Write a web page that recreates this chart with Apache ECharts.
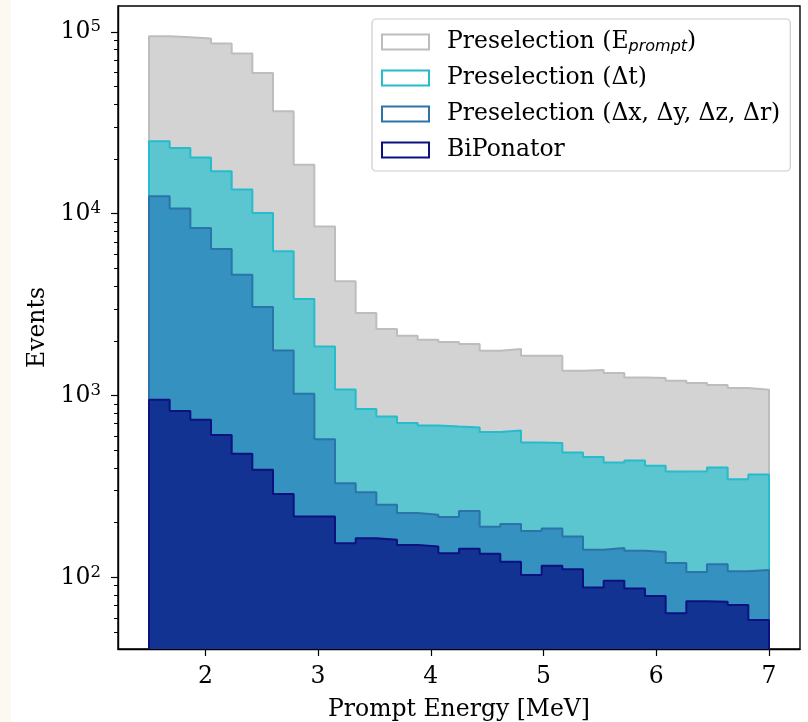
<!DOCTYPE html>
<html><head><meta charset="utf-8">
<script src="https://cdn.jsdelivr.net/npm/echarts@6/dist/echarts.min.js"></script>
<style>html,body{margin:0;padding:0;background:#fff}#c{width:808px;height:722px}</style>
</head><body><div id="c"></div>
<script>
// Histogram binning: 30 bins from 1.5 to 7.0 MeV
const binStart = 1.5;
const binEnd = 7.0;
const nBins = 30;

const seriesNames = [
  'Preselection (E_prompt)',
  'Preselection (Δt)',
  'Preselection (Δx, Δy, Δz, Δr)',
  'BiPonator'
];

const ePrompt = [94700, 93500, 92000, 86300, 76000, 59500, 36600, 18600, 8520, 4250,
                 2845, 2323, 2134, 2028, 1970, 1920, 1765, 1803, 1656, 1656,
                 1369, 1381, 1330, 1258, 1248, 1206, 1172, 1142, 1100, 1076];
const deltaT = [25000, 23000, 20400, 17100, 13600, 10100, 6210, 3400, 1863, 1080,
                843, 767, 706, 685, 676, 668, 630, 643, 552, 548,
                486, 459, 428, 439, 411, 382, 384, 402, 347, 368];
const deltaXYZR = [12470, 10700, 8350, 6400, 4620, 3070, 1771, 1023, 576, 330,
                   294, 251, 226, 221, 215, 232, 190, 197, 180, 186,
                   168, 142, 145, 140, 138, 120, 107, 118, 108, 110];
const biPonator = [948, 823, 736, 608, 478, 391, 288, 216, 216, 154,
                   164, 161, 151, 148, 136, 144, 135, 122, 103, 116,
                   111, 88, 96, 87, 79, 63.5, 74, 73.6, 70.6, 58.4];

const xTicks = [2, 3, 4, 5, 6, 7];
const yTicks = [100, 1000, 10000, 100000];
const yMinorTicks = [50, 60, 70, 80, 90, 200, 300, 400, 500, 600, 700, 800, 900,
  2000, 3000, 4000, 5000, 6000, 7000, 8000, 9000,
  20000, 30000, 40000, 50000, 60000, 70000, 80000, 90000];

const xMin = 1.225, xMax = 7.275;
const yMin = 40.4, yMax = 138800;

const fillColors = ['#d3d3d3', '#5bc5d0', '#3591c0', '#133393'];
const edgeColors = ['#bdbdbd', '#26bccc', '#2b74a9', '#0b1280'];
const FONT = 'DejaVu Serif';
const FS = 23.5;

const binWidth = (binEnd - binStart) / nBins;
const edges = [];
for (let k = 0; k <= nBins; k++) edges.push(binStart + k * binWidth);

function stepPoints(vals) {
  const pts = [[edges[0], yMin]];
  vals.forEach((v, i) => pts.push([edges[i], v]));
  pts.push([edges[nBins], vals[vals.length - 1]]);
  pts.push([edges[nBins], yMin]);
  return pts;
}

const allData = [ePrompt, deltaT, deltaXYZR, biPonator];
const series = allData.map((vals, i) => ({
  name: seriesNames[i],
  type: 'line',
  step: 'end',
  symbol: 'none',
  data: stepPoints(vals),
  lineStyle: { color: edgeColors[i], width: 2 },
  itemStyle: { color: edgeColors[i] },
  areaStyle: { color: fillColors[i], opacity: 1, origin: 'start' },
  emphasis: { disabled: true },
  silent: true,
  animation: false
}));

const chart = echarts.init(document.getElementById('c'));
chart.setOption({
  animation: false,
  backgroundColor: '#ffffff',
  graphic: [{ type: 'rect', left: 0, top: 0, shape: { width: 11, height: 722 }, style: { fill: '#fdf9f0' }, silent: true }],
  grid: { left: 118, right: 8, top: 6, bottom: 73, show: true, borderColor: '#000', borderWidth: 1.4, backgroundColor: '#fff', outerBoundsMode: 'none', containLabel: false },
  legend: {
    orient: 'vertical', left: 372, top: 19,
    padding: [10, 10, 8, 9], itemGap: 10, itemWidth: 47, itemHeight: 15,
    icon: 'rect',
    backgroundColor: 'rgba(255,255,255,0.8)', borderColor: '#cccccc', borderWidth: 1.2, borderRadius: 4,
    selectedMode: false,
    textStyle: {
      fontFamily: FONT, fontSize: FS, color: '#000', lineHeight: 26, padding: [0, 0, 0, 13],
      rich: {
        sub: { fontFamily: 'DejaVu Sans', fontStyle: 'italic', fontSize: 16, color: '#000', lineHeight: 26, verticalAlign: 'bottom' }
      }
    },
    formatter: function (name) {
      if (name === seriesNames[0]) return 'Preselection (E{sub|prompt})';
      return name;
    },
    data: seriesNames.map((n, i) => ({ name: n, icon: 'rect', itemStyle: { color: '#ffffff', borderColor: edgeColors[i], borderWidth: 2 } }))
  },
  xAxis: {
    type: 'value', min: xMin, max: xMax,
    splitLine: { show: false },
    axisLine: { lineStyle: { color: '#000', width: 1.4 } },
    axisTick: { length: 7, customValues: xTicks, lineStyle: { color: '#000', width: 1.2 } },
    axisLabel: { customValues: xTicks, fontFamily: FONT, fontSize: FS, color: '#000', margin: 16 },
    name: 'Prompt Energy [MeV]', nameLocation: 'middle', nameGap: 49,
    nameTextStyle: { fontFamily: FONT, fontSize: FS, color: '#000' }
  },
  yAxis: [{
    type: 'log', logBase: 10, min: yMin, max: yMax,
    splitLine: { show: false },
    axisLine: { show: true, lineStyle: { color: '#000', width: 1.4 } },
    axisTick: { show: true, length: 7, customValues: yTicks, lineStyle: { color: '#000', width: 1.2 } },
    axisLabel: {
      customValues: yTicks, margin: 17,
      formatter: v => '{b|10}{sup|' + Math.round(Math.log10(v)) + '}',
      rich: {
        b: { fontFamily: FONT, fontSize: FS, color: '#000' },
        sup: { fontFamily: FONT, fontSize: 16.5, color: '#000', verticalAlign: 'top', padding: [0, 0, 10, 0] }
      }
    },
    name: 'Events', nameLocation: 'middle', nameGap: 68,
    nameTextStyle: { fontFamily: FONT, fontSize: FS, color: '#000' }
  }, {
    type: 'log', logBase: 10, min: yMin, max: yMax, position: 'left',
    splitLine: { show: false },
    axisLine: { show: false },
    axisTick: { show: true, length: 4, customValues: yMinorTicks, lineStyle: { color: '#000', width: 1 } },
    axisLabel: { show: false }
  }],
  series: series
});
</script>
</body></html>
